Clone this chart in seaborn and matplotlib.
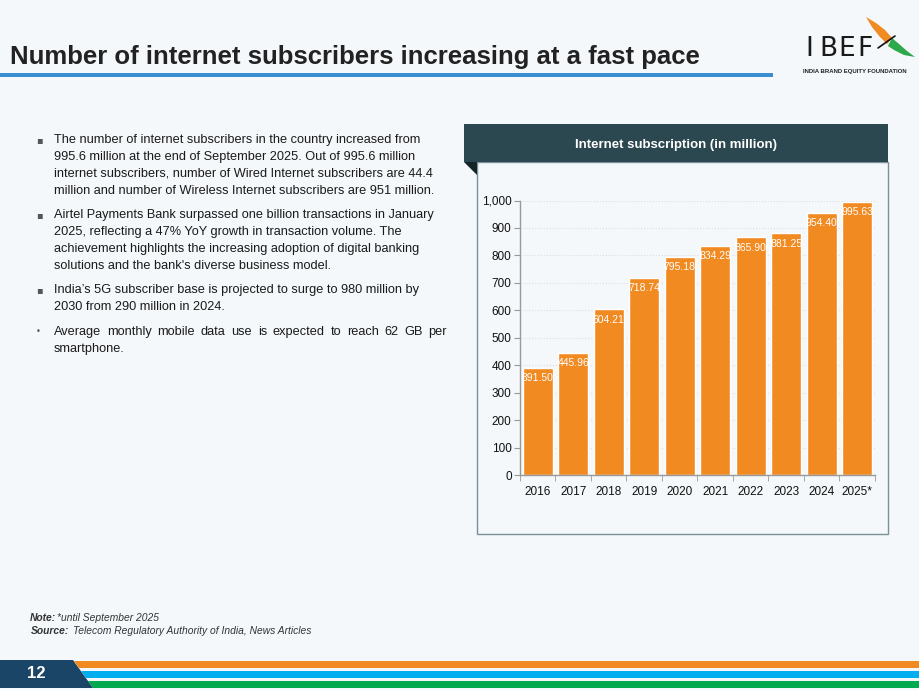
import matplotlib
matplotlib.use('Agg')
import matplotlib.pyplot as plt
import seaborn as sns
import pandas as pd
from matplotlib.patches import Rectangle, Polygon
from matplotlib.ticker import FuncFormatter, MultipleLocator, FixedLocator

# data
years = ['2016', '2017', '2018', '2019', '2020', '2021', '2022', '2023', '2024', '2025*']
subscribers = [391.50, 445.96, 604.21, 718.74, 795.18, 834.29, 865.90, 881.25, 954.40, 995.63]

bullets = [
    ['The number of internet subscribers in the country increased from',
     '995.6 million at the end of September 2025. Out of 995.6 million',
     'internet subscribers, number of Wired Internet subscribers are 44.4',
     'million and number of Wireless Internet subscribers are 951 million.'],
    ['Airtel Payments Bank surpassed one billion transactions in January',
     '2025, reflecting a 47% YoY growth in transaction volume. The',
     'achievement highlights the increasing adoption of digital banking',
     "solutions and the bank's diverse business model."],
    ['India\u2019s 5G subscriber base is projected to surge to 980 million by',
     '2030 from 290 million in 2024.'],
    ['Average monthly mobile data use is expected to reach 62 GB per',
     'smartphone.'],
]
bullet_y = [140, 215, 290, 332]

BG = '#F4F8FA'
ORANGE = '#F28A22'

sns.set_style('white')
plt.rcParams['font.family'] = ['Liberation Sans', 'DejaVu Sans']

fig = plt.figure(figsize=(9.2, 6.9), dpi=100)
fig.patch.set_facecolor(BG)
renderer = fig.canvas.get_renderer()

# full-page axes in pixel coords for the slide decorations
bg = fig.add_axes([0, 0, 1, 1])
bg.set_xlim(0, 920)
bg.set_ylim(690, 0)
bg.axis('off')
bg.set_zorder(0)

# title + underline
bg.text(10, 57, 'Number of internet subscribers increasing at a fast pace',
        fontsize=18.5, fontweight='bold', color='#222222', va='center', ha='left')
bg.add_patch(Rectangle((0, 73), 773, 4, color='#3A8ED0', lw=0))

# logo
for ch, x in zip('IBEF', [805, 819, 838, 857]):
    bg.text(x, 49, ch, fontsize=19, color='#1a1a1a', va='center', ha='left',
            family=['DejaVu Sans'])
bg.text(803, 72, 'INDIA BRAND EQUITY FOUNDATION', fontsize=4.3, color='#222222',
        va='center', ha='left', fontweight='bold')
bg.add_patch(Polygon([(866, 17), (876, 23), (885, 30), (892, 38), (887, 44),
                      (880, 37), (872, 27)], closed=True, color='#F28A22', lw=0))
bg.add_patch(Polygon([(892, 38), (899, 44), (907, 51), (915, 57), (904, 55),
                      (894, 50), (888, 46)], closed=True, color='#2DA84A', lw=0))
bg.plot([878, 895], [48, 36], color='#111111', lw=1.2)


def justified(line, x0, x1, y, **kw):
    # spread words so the line fills x0..x1 (last bullet is justified on the slide)
    words = line.split()
    arts = [bg.text(0, y, w, va='center', ha='left', **kw) for w in words]
    widths = [a.get_window_extent(renderer).width for a in arts]
    gap = (x1 - x0 - sum(widths)) / (len(words) - 1)
    x = x0
    for a, w in zip(arts, widths):
        a.set_x(x)
        x += w + gap


# bullets
for lines, y0 in zip(bullets, bullet_y):
    last = y0 == bullet_y[-1]
    bg.text(36, y0, '\u2022' if last else '\u25aa', fontsize=6 if last else 7,
            color='#555555', va='center', ha='left', family=['DejaVu Sans'])
    for k, line in enumerate(lines):
        if last and k == 0:
            justified(line, 54, 447, y0, fontsize=9.2, color='#1a1a1a')
        else:
            bg.text(54, y0 + k * 17, line, fontsize=9.2, color='#1a1a1a',
                    va='center', ha='left')

# chart panel
bg.add_patch(Rectangle((477, 162), 411, 372, facecolor=BG, edgecolor='#7D8F99', lw=1))
bg.add_patch(Rectangle((464, 124), 424, 38, color='#2B4850', lw=0))
bg.add_patch(Polygon([(464, 162), (477, 162), (477, 175)], closed=True,
                     color='#14252A', lw=0))
bg.text(676, 145, 'Internet subscription (in million)', fontsize=9.5,
        fontweight='bold', color='white', ha='center', va='center')

# footer
bg.text(30, 618, 'Note:', fontsize=7.4, fontstyle='italic', fontweight='bold',
        color='#333333', va='center')
bg.text(57, 618, '*until September 2025', fontsize=7.4, fontstyle='italic',
        color='#333333', va='center')
bg.text(31, 631, 'Source:', fontsize=7.4, fontstyle='italic', fontweight='bold',
        color='#333333', va='center')
bg.text(73, 631, 'Telecom Regulatory Authority of India, News Articles', fontsize=7.4,
        fontstyle='italic', color='#333333', va='center')

bg.add_patch(Polygon([(0, 660), (73, 660), (93, 688), (0, 688)], closed=True,
                     color='#1B4566', lw=0))
bg.text(36, 674, '12', fontsize=12, fontweight='bold', color='white',
        ha='center', va='center')
stripes = [(661, 668, '#F28A22'), (671, 678, '#00AEEF'), (681, 688, '#00A94F')]
for y1, y2, c in stripes:
    xa = 73 + (y1 - 660) * 20 / 28
    xb = 73 + (y2 - 660) * 20 / 28
    bg.add_patch(Polygon([(xa, y1), (920, y1), (920, y2), (xb, y2)], closed=True,
                         color=c, lw=0))

# bar chart
ax = fig.add_axes([520 / 920, 1 - 475 / 690, 355 / 920, 274.5 / 690])
ax.set_zorder(1)
ax.patch.set_alpha(0)
df = pd.DataFrame({'year': years, 'subs': subscribers})
sns.barplot(data=df, x='year', y='subs', color=ORANGE, saturation=1, width=0.84, ax=ax)
ax.set_ylim(0, 1000)
ax.set_xlim(-0.5, len(years) - 0.5)
ax.set_xlabel('')
ax.set_ylabel('')
ax.yaxis.set_major_locator(MultipleLocator(100))
ax.yaxis.set_major_formatter(FuncFormatter(lambda v, p: f'{v:,.0f}'))
ax.grid(axis='y', color='#DDDDDD', linestyle=':', lw=0.8)
ax.set_axisbelow(True)
for s in ['top', 'right']:
    ax.spines[s].set_visible(False)
for s in ['left', 'bottom']:
    ax.spines[s].set_color('#999999')
    ax.spines[s].set_linewidth(1)
ax.tick_params(axis='y', length=4, color='#999999', labelsize=8.5, pad=2,
               labelcolor='#111111', left=True)
ax.tick_params(axis='x', which='major', length=0, labelsize=8.5, pad=8,
               labelcolor='#111111', bottom=True)
ax.xaxis.set_minor_locator(FixedLocator([i - 0.5 for i in range(len(years) + 1)]))
ax.tick_params(axis='x', which='minor', length=4, color='#999999', bottom=True)

for i, v in enumerate(subscribers):
    ax.annotate(f'{v:.2f}', (i, v), xytext=(0, -7.5), textcoords='offset points',
                ha='center', va='center', color='white', fontsize=7.5)

fig.savefig('out.png', dpi=100, facecolor=BG)
